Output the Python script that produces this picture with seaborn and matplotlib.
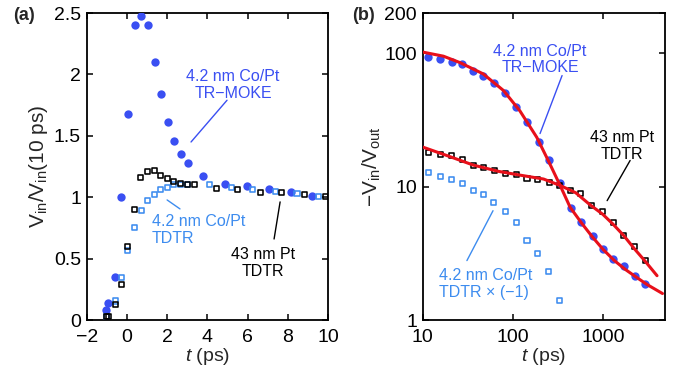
import numpy as np
import pandas as pd
import seaborn as sns
import matplotlib
matplotlib.use('Agg')
import matplotlib.pyplot as plt
from matplotlib.ticker import FixedLocator, NullLocator

# ---- panel (a): normalised in-phase signal vs delay ----
a_moke_t = [-1.03, -0.96, -0.61, -0.27, 0.05, 0.40, 0.71, 1.04, 1.38, 1.71, 2.02, 2.35,
            2.70, 3.02, 3.78, 4.86, 5.97, 7.06, 8.14, 9.22]
a_moke_v = [0.08, 0.14, 0.35, 1.00, 1.68, 2.40, 2.48, 2.40, 2.10, 1.84, 1.61, 1.46,
            1.35, 1.28, 1.17, 1.11, 1.095, 1.07, 1.04, 1.01]
a_pt_t = [-1.0, -0.91, -0.58, -0.27, 0.03, 0.38, 0.68, 1.03, 1.36, 1.69, 2.02, 2.34,
          2.67, 3.02, 3.35, 4.44, 5.52, 6.62, 7.71, 8.81, 9.90]
a_pt_v = [0.03, 0.03, 0.13, 0.29, 0.60, 0.90, 1.16, 1.21, 1.22, 1.18, 1.15, 1.125,
          1.11, 1.105, 1.10, 1.07, 1.06, 1.04, 1.04, 1.025, 1.01]
a_copt_t = [-1.03, -0.58, -0.27, 0.03, 0.38, 0.71, 1.03, 1.36, 1.69, 2.02, 2.34, 2.67,
            3.02, 4.11, 5.19, 6.27, 7.38, 8.46, 9.55]
a_copt_v = [0.025, 0.155, 0.35, 0.565, 0.75, 0.895, 0.97, 1.025, 1.06, 1.08, 1.10, 1.105,
            1.105, 1.10, 1.08, 1.06, 1.045, 1.03, 1.005]

# ---- panel (b): -Vin/Vout vs delay (log-log) ----
b_moke_t = [11.6, 15.6, 20.9, 27.1, 36.4, 47, 61.7, 81.5, 110, 144, 194, 253, 331, 439,
            576, 774, 1000, 1290, 1706, 2260, 2965]
b_moke_r = [94.4, 90.7, 85.6, 83.2, 74.1, 68, 59.6, 50.1, 39.4, 30.4, 21.5, 15.7, 10.6,
            6.92, 5.40, 4.29, 3.41, 2.87, 2.56, 2.14, 1.86]
b_pt_t = [11.6, 15.6, 20.9, 27.7, 36.4, 47.7, 63, 82.7, 110, 144, 190, 253, 331, 435,
          571, 755, 1000, 1310, 1706, 2260, 2965]
b_pt_r = [17.9, 17.4, 17.0, 15.9, 14.4, 14.0, 13.2, 12.6, 12.4, 11.6, 11.4, 10.8, 10.2,
          9.33, 8.81, 7.20, 6.53, 5.40, 4.29, 3.55, 2.79]
b_copt_t = [11.6, 15.6, 20.9, 27.7, 36.4, 47.7, 61.7, 82.7, 110, 144, 190, 250, 331]
b_copt_r = [12.7, 12.0, 11.4, 10.6, 9.33, 8.71, 7.54, 6.49, 5.40, 3.98, 3.13, 2.32, 1.40]

# model fits (red lines)
fit_moke_t = [10, 17, 26, 47, 79, 120, 185, 250, 336, 434, 585, 755, 1000, 1336, 1770,
              2344, 3083, 4600]
fit_moke_r = [102, 95, 85, 70, 52.5, 37, 23.4, 15.5, 10.2, 7.0, 5.3, 4.25, 3.4, 2.8, 2.4,
              2.1, 1.85, 1.58]
fit_pt_t = [10, 20, 36.5, 70, 120, 220, 336, 500, 723, 1000, 1310, 1706, 2260, 2965, 4000]
fit_pt_r = [19.8, 16.8, 14.5, 13.0, 12.2, 11.4, 10.2, 9.0, 7.3, 6.2, 5.2, 4.3, 3.4, 2.75, 2.15]

BLUE = '#3a4ff2'
LBLUE = '#3d8cef'
RED = '#e8101a'

sns.set_style('ticks')
plt.rcParams['font.family'] = ['Liberation Sans', 'DejaVu Sans']
plt.rcParams['mathtext.fontset'] = 'custom'
plt.rcParams['mathtext.rm'] = 'Liberation Sans'
plt.rcParams['mathtext.it'] = 'Liberation Sans:italic'
plt.rcParams['mathtext.default'] = 'regular'
plt.rcParams['axes.linewidth'] = 1.3
plt.rcParams['axes.edgecolor'] = 'black'

fig = plt.figure(figsize=(6.74, 3.73), dpi=100)
ax1 = fig.add_axes([0.1286, 0.142, 0.358, 0.823])
ax2 = fig.add_axes([0.6271, 0.142, 0.3595, 0.823])

circ = dict(marker='o', s=36, linewidth=0, zorder=3)
sq = dict(marker='s', s=13, facecolor='none', linewidth=1.15, zorder=4)

# panel (a)
sns.scatterplot(x=a_moke_t, y=a_moke_v, ax=ax1, color=BLUE, **circ)
sns.scatterplot(x=a_copt_t, y=a_copt_v, ax=ax1, color=LBLUE, edgecolor=LBLUE, **sq)
sns.scatterplot(x=a_pt_t, y=a_pt_v, ax=ax1, color='black', edgecolor='black', **sq)

ax1.set_xlim(-2, 10)
ax1.set_ylim(0, 2.5)
ax1.set_xticks([-2, 0, 2, 4, 6, 8, 10])
ax1.set_xticklabels(['\u22122', '0', '2', '4', '6', '8', '10'])
ax1.set_yticks([0, 0.5, 1, 1.5, 2, 2.5])
ax1.set_yticklabels(['0', '0.5', '1', '1.5', '2', '2.5'])
ax1.set_xlabel('$\\mathit{t}$ (ps)', fontsize=14, labelpad=0)
ax1.set_ylabel('V$_{in}$/V$_{in}$(10 ps)', fontsize=15, labelpad=3)

ann = dict(fontsize=11.5, linespacing=1.15)
ax1.text(5.28, 1.915, '4.2 nm Co/Pt\nTR\u2212MOKE', color=BLUE, ha='center', va='center', **ann)
ax1.plot([3.19, 4.98], [1.45, 1.79], color=BLUE, lw=1)
ax1.text(1.25, 0.733, '4.2 nm Co/Pt\nTDTR', color=LBLUE, ha='left', va='center', **ann)
ax1.plot([2.0, 2.64], [0.978, 0.905], color=LBLUE, lw=1)
ax1.text(6.77, 0.465, '43 nm Pt\nTDTR', color='black', ha='center', va='center', **ann)
ax1.plot([7.62, 7.32], [0.962, 0.66], color='black', lw=1)

# panel (b)
sns.lineplot(x=fit_moke_t, y=fit_moke_r, ax=ax2, color=RED, lw=2.2, zorder=5)
sns.lineplot(x=fit_pt_t, y=fit_pt_r, ax=ax2, color=RED, lw=2.2, zorder=5)
sns.scatterplot(x=b_moke_t, y=b_moke_r, ax=ax2, color=BLUE, **circ)
sns.scatterplot(x=b_copt_t, y=b_copt_r, ax=ax2, color=LBLUE, edgecolor=LBLUE, **sq)
sns.scatterplot(x=b_pt_t, y=b_pt_r, ax=ax2, color='black', edgecolor='black', **sq)

ax2.set_xscale('log')
ax2.set_yscale('log')
ax2.set_xlim(10, 4900)
ax2.set_ylim(1, 200)
ax2.xaxis.set_major_locator(FixedLocator([10, 100, 1000]))
ax2.xaxis.set_minor_locator(NullLocator())
ax2.set_xticklabels(['10', '100', '1000'])
ax2.yaxis.set_major_locator(FixedLocator([1, 10, 100, 200]))
ax2.yaxis.set_minor_locator(NullLocator())
ax2.set_yticklabels(['1', '10', '100', '200'])
ax2.set_xlabel('$\\mathit{t}$ (ps)', fontsize=14, labelpad=0)
ax2.set_ylabel('\u2212V$_{in}$/V$_{out}$', fontsize=15, labelpad=1)

ax2.text(201, 89.7, '4.2 nm Co/Pt\nTR\u2212MOKE', color=BLUE, ha='center', va='center', **ann)
ax2.plot([201, 353], [25, 68], color=BLUE, lw=1)
ax2.text(1644, 20.3, '43 nm Pt\nTDTR', color='black', ha='center', va='center', **ann)
ax2.plot([1117, 2010], [7.85, 15.7], color='black', lw=1)
ax2.text(15.2, 1.87, '4.2 nm Co/Pt\nTDTR \u00d7 (\u22121)', color=LBLUE, ha='left', va='center', **ann)
ax2.plot([31, 60.4], [2.79, 6.6], color=LBLUE, lw=1)

for ax in (ax1, ax2):
    ax.tick_params(which='both', direction='in', top=True, right=True, length=4,
                   width=1.1, labelsize=14, colors='black')
    ax.tick_params(axis='x', pad=6.5)
    ax.tick_params(axis='y', pad=4)
    for sp in ax.spines.values():
        sp.set_visible(True)
        sp.set_linewidth(1.3)

fig.text(13 / 674, 1 - 15 / 373, '(a)', fontsize=13, fontweight='bold', va='center', ha='left')
fig.text(352 / 674, 1 - 15 / 373, '(b)', fontsize=13, fontweight='bold', va='center', ha='left')

fig.savefig('out.png', dpi=100)
